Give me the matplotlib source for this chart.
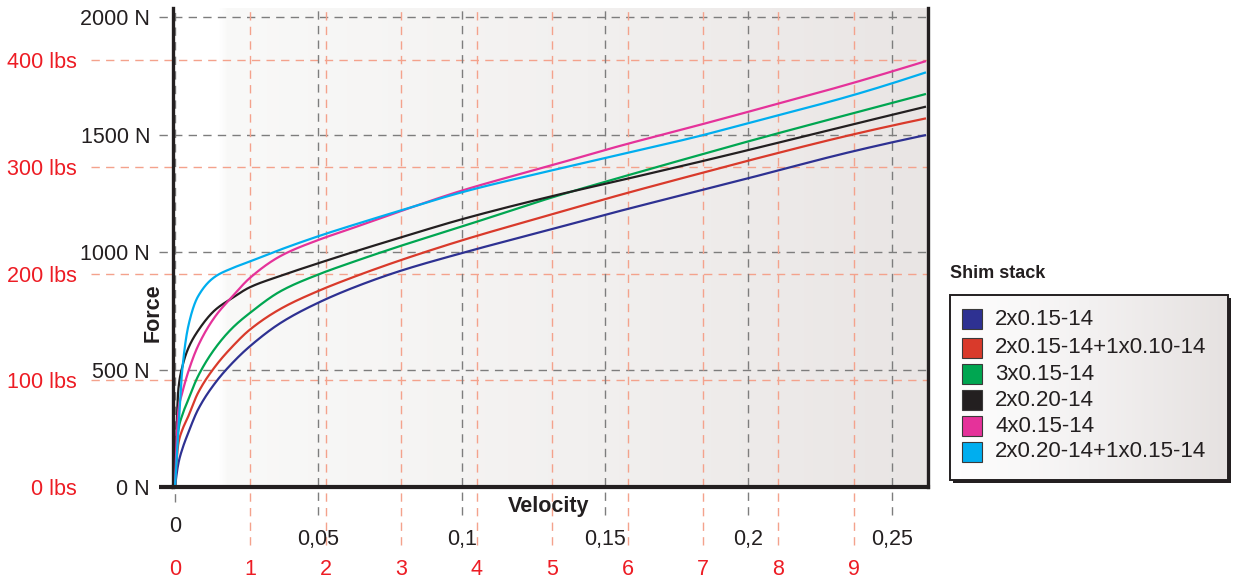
import numpy as np
import matplotlib
matplotlib.use("Agg")
import matplotlib.pyplot as plt
from matplotlib.colors import LinearSegmentedColormap
from matplotlib.patches import Rectangle

plt.rcParams["font.family"] = ["Liberation Sans", "DejaVu Sans"]

# ---- data -------------------------------------------------------------
VELOCITY = [0, 0.0012, 0.0025, 0.0046, 0.008, 0.014, 0.02, 0.026, 0.037,
            0.05, 0.062, 0.078, 0.1, 0.132, 0.155, 0.183, 0.2, 0.236, 0.262]

F_2x015 = [0, 102, 160, 230, 329, 443, 528, 598, 700, 785, 848, 918, 996,
           1100, 1175, 1262, 1315, 1428, 1499]
F_2x015_1x010 = [0, 187, 242, 300, 400, 513, 598, 669, 760, 835, 893, 963,
                 1050, 1163, 1243, 1335, 1390, 1500, 1570]
F_3x015 = [0, 244, 305, 371, 471, 591, 677, 740, 835, 905, 958, 1024, 1109,
           1235, 1317, 1414, 1472, 1590, 1674]
F_2x020 = [0, 420, 510, 590, 665, 754, 805, 850, 900, 953, 1000, 1060, 1140,
           1240, 1305, 1385, 1435, 1543, 1620]
F_4x015 = [0, 330, 400, 490, 600, 726, 811, 889, 985, 1052, 1103, 1172, 1262,
           1372, 1452, 1542, 1598, 1719, 1814]
F_2x020_1x015 = [0, 250, 495, 683, 811, 896, 932, 960, 1012, 1068, 1115, 1175,
                 1255, 1350, 1415, 1495, 1550, 1667, 1766]

SERIES_NAMES = ["2x0.15-14", "2x0.15-14+1x0.10-14", "3x0.15-14",
                "2x0.20-14", "4x0.15-14", "2x0.20-14+1x0.15-14"]
SERIES_VALUES = [F_2x015, F_2x015_1x010, F_3x015, F_2x020, F_4x015, F_2x020_1x015]
SERIES_COLORS = ["#2e3192", "#d93a2b", "#00a651", "#231f20", "#e5329a", "#00aeef"]

N_TICKS = [0, 500, 1000, 1500, 2000]
LBS_TICKS = [0, 100, 200, 300, 400]
MS_TICKS = [0, 0.05, 0.1, 0.15, 0.2, 0.25]
INS_TICKS = [0, 1, 2, 3, 4, 5, 6, 7, 8, 9]

N_PER_LBS = 4.545
INS_PER_MS = 38.0

GRAY = "#7d7d7d"
SALMON = "#f4a28c"
RED_TXT = "#ed1c24"
INK = "#231f20"
FS = 15.5


def pchip(x, y, xn):
    x = np.asarray(x, float)
    y = np.asarray(y, float)
    h = np.diff(x)
    d = np.diff(y) / h
    n = len(x)
    m = np.zeros(n)
    for k in range(1, n - 1):
        if d[k - 1] * d[k] > 0:
            w1 = 2 * h[k] + h[k - 1]
            w2 = h[k] + 2 * h[k - 1]
            m[k] = (w1 + w2) / (w1 / d[k - 1] + w2 / d[k])
    m0 = ((2 * h[0] + h[1]) * d[0] - h[0] * d[1]) / (h[0] + h[1])
    m[0] = m0 if m0 * d[0] > 0 else 0
    me = ((2 * h[-1] + h[-2]) * d[-1] - h[-1] * d[-2]) / (h[-1] + h[-2])
    m[-1] = me if me * d[-1] > 0 else 0
    idx = np.clip(np.searchsorted(x, xn) - 1, 0, n - 2)
    t = (xn - x[idx]) / h[idx]
    h00 = 2 * t**3 - 3 * t**2 + 1
    h10 = t**3 - 2 * t**2 + t
    h01 = -2 * t**3 + 3 * t**2
    h11 = t**3 - t**2
    return (h00 * y[idx] + h10 * h[idx] * m[idx] +
            h01 * y[idx + 1] + h11 * h[idx] * m[idx + 1])


W, H = 1233, 580
fig = plt.figure(figsize=(W / 100, H / 100), dpi=100)

L, R, B, T = 173, 928, 487, 8
ax = fig.add_axes([L / W, 1 - B / H, (R - L) / W, (B - T) / H])
ax.set_xlim(-0.0007, 0.2627)
ax.set_ylim(0, 2040)

# background fountain fill
bg = LinearSegmentedColormap.from_list(
    "bg", [(0, "#ffffff"), (0.06, "#ffffff"), (0.07, "#f9f9f8"),
           (0.55, "#f2f0ef"), (1, "#e9e5e4")])
grad = np.linspace(0, 1, 256).reshape(1, -1)
ax.imshow(grad, cmap=bg, aspect="auto", extent=[0, 1, 0, 1],
          transform=ax.transAxes, zorder=0)

ytr = ax.get_yaxis_transform()
xtr = ax.get_xaxis_transform()
dash = (0, (6, 4.5))

# horizontal grid (newton and pound)
for f in N_TICKS[1:]:
    ax.plot([-0.0185, 1], [f, f], transform=ytr, color=GRAY, lw=1.0,
            linestyle=dash, clip_on=False, zorder=1)
for lb in LBS_TICKS[1:]:
    f = lb * N_PER_LBS
    ax.plot([-0.1086, 1], [f, f], transform=ytr, color=SALMON, lw=1.0,
            linestyle=dash, clip_on=False, zorder=1)

# vertical grid (m/s and in/s)
for v in MS_TICKS:
    ybot = -0.031 if v == 0 else -0.058
    ax.plot([v, v], [ybot, 1], transform=xtr, color=GRAY, lw=1.0,
            linestyle=dash, clip_on=False, zorder=1)
for i in INS_TICKS[1:]:
    v = i / INS_PER_MS
    ax.plot([v, v], [-0.121, 1], transform=xtr, color=SALMON, lw=1.0,
            linestyle=dash, clip_on=False, zorder=1)

# curves
vv = np.linspace(0, VELOCITY[-1], 1200)
vv = np.unique(np.concatenate([vv, np.linspace(0, 0.03, 400)]))
for name, vals, col in zip(SERIES_NAMES, SERIES_VALUES, SERIES_COLORS):
    ax.plot(vv, pchip(VELOCITY, vals, vv), color=col, lw=1.6, zorder=3,
            solid_capstyle="butt")

# frame
ax.spines["top"].set_visible(False)
ax.spines["left"].set_linewidth(2.4)
ax.spines["left"].set_color(INK)
ax.spines["right"].set_linewidth(2.4)
ax.spines["right"].set_color(INK)
ax.spines["bottom"].set_linewidth(3.0)
ax.spines["bottom"].set_color(INK)
ax.spines["bottom"].set_zorder(4)
ax.plot([-0.0185, 0], [0, 0], transform=ytr, color=INK, lw=3.0,
        clip_on=False, zorder=4, solid_capstyle="butt")

# newton labels
ax.set_yticks(N_TICKS)
ax.set_yticklabels([f"{f} N" for f in N_TICKS])
ax.tick_params(axis="y", length=0, pad=16.5, labelsize=FS, labelcolor=INK)

# pound labels
sy = ax.secondary_yaxis("left", functions=(lambda f: f / N_PER_LBS,
                                           lambda lb: lb * N_PER_LBS))
sy.set_yticks(LBS_TICKS)
sy.set_yticklabels([f"{lb} lbs" for lb in LBS_TICKS])
sy.tick_params(axis="y", length=0, pad=69, labelsize=FS, labelcolor=RED_TXT)
sy.spines["left"].set_visible(False)

# m/s labels
ax.set_xticks(MS_TICKS[1:])
ax.set_xticklabels([f"{v:g}".replace(".", ",") for v in MS_TICKS[1:]])
ax.tick_params(axis="x", length=0, pad=30, labelsize=FS, labelcolor=INK)
ax.text(0, -0.0835, "0", transform=xtr, ha="center", va="center",
        fontsize=FS, color=INK)

# in/s labels
sx = ax.secondary_xaxis("bottom", functions=(lambda v: v * INS_PER_MS,
                                             lambda i: i / INS_PER_MS))
sx.set_xticks(INS_TICKS)
sx.set_xticklabels([str(i) for i in INS_TICKS])
sx.tick_params(axis="x", length=0, pad=52, labelsize=FS, labelcolor=RED_TXT)
sx.spines["bottom"].set_visible(False)

ax.text(0.498, -0.0397, "Velocity", transform=ax.transAxes, ha="center",
        va="center", fontsize=FS, fontweight="bold", color=INK)
ax.text(-0.0265, 0.363, "Force", transform=ax.transAxes, ha="center",
        va="center", rotation=90, fontsize=FS, fontweight="bold", color=INK)

# legend panel
fig.text(950 / W, 1 - 273 / H, "Shim stack", ha="left", va="center",
         fontsize=13, fontweight="bold", color=INK)
lx0, lx1, ly0, ly1 = 950, 1231, 295, 483
lax = fig.add_axes([lx0 / W, 1 - ly1 / H, (lx1 - lx0) / W, (ly1 - ly0) / H])
lax.set_xlim(lx0, lx1)
lax.set_ylim(ly1, ly0)
lax.axis("off")
lbg = LinearSegmentedColormap.from_list("lbg", ["#ffffff", "#f3f1f1", "#e6e2e1"])
lax.add_patch(Rectangle((lx0 + 3, ly0 + 3), lx1 - lx0 - 3, ly1 - ly0 - 3,
                        facecolor=INK, edgecolor="none", clip_on=False, zorder=0))
lax.imshow(grad, cmap=lbg, aspect="auto",
           extent=[lx0, lx1 - 3, ly1 - 3, ly0], zorder=1)
lax.add_patch(Rectangle((lx0, ly0), lx1 - lx0 - 3, ly1 - ly0 - 3,
                        facecolor="none", edgecolor=INK, lw=1.4,
                        clip_on=False, zorder=2))
row_y = [319.3, 347.7, 374, 400, 426, 451.7]
for name, col, ry in zip(SERIES_NAMES, SERIES_COLORS, row_y):
    lax.add_patch(Rectangle((962, ry - 10), 20, 20, facecolor=col,
                            edgecolor="#3a3a3a", lw=0.8, zorder=3))
    lax.text(995, ry, name, ha="left", va="center", fontsize=16,
             color=INK, zorder=3)

fig.savefig("out.png", dpi=100)
